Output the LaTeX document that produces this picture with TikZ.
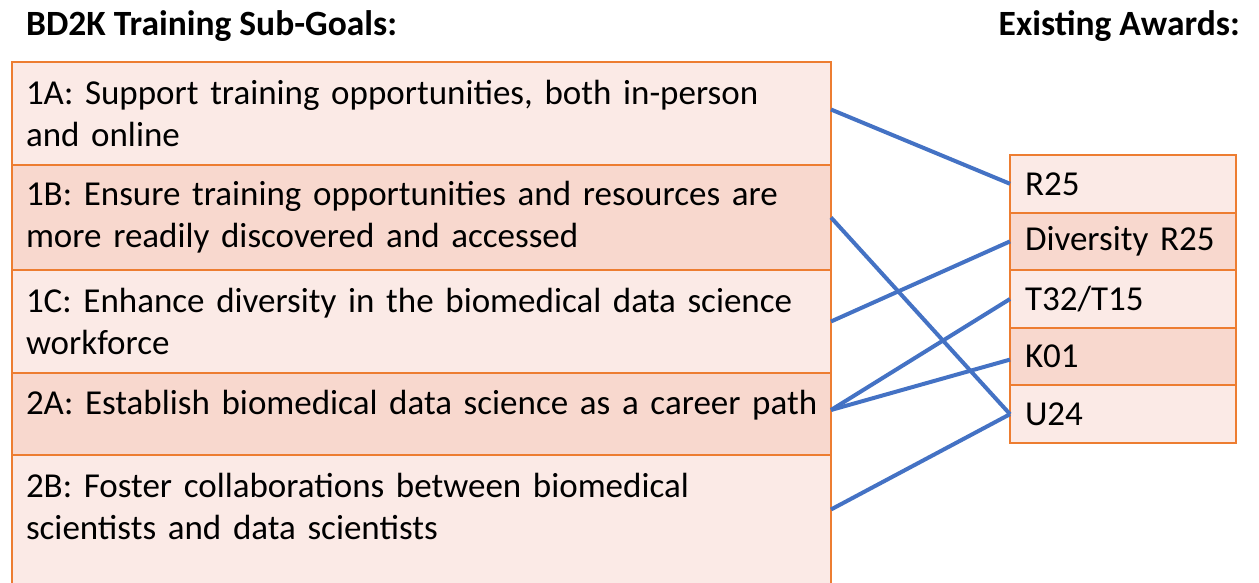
\documentclass[tikz,border=0pt]{standalone}
\usepackage{fontspec}
\setmainfont{Carlito}
\usetikzlibrary{positioning}

\definecolor{edgeorange}{HTML}{ED7D31}
\definecolor{palefill}{HTML}{FBEAE6}
\definecolor{deepfill}{HTML}{F8D8CE}
\definecolor{linkblue}{HTML}{4472C4}

\begin{document}
\begin{tikzpicture}[x=1pt, y=-1pt,
    every node/.style={font=\fontsize{35}{42}\selectfont},
    heading/.style={font=\fontsize{35.5}{42}\selectfont\bfseries, inner sep=0pt},
    goal/.style={draw=edgeorange, line width=2pt, rectangle, align=left, outer sep=0pt,
      text width=791pt, inner xsep=14pt, inner ysep=3pt, minimum height=#1},
    award/.style={draw=edgeorange, line width=2pt, rectangle, align=left, outer sep=0pt,
      text width=196pt, inner xsep=15pt, inner ysep=3pt, minimum height=57.6pt},
    link/.style={draw=linkblue, line width=4pt}]

  % frame of the picture
  \clip (0,0) rectangle (1259,583);

  % headings
  \node[heading, anchor=base west] (goalhead) at (26,36) {BD2K Training Sub-Goals:};
  \node[heading, anchor=base east] (awardhead) at (1240,36) {Existing Awards:};

  % sub-goals, left column
  \node[goal=103pt, fill=palefill, anchor=north west] (g1A) at (12,62)
    {1A: Support training opportunities, both in-person\\and online};
  \node[goal=105pt, fill=deepfill, below=0pt of g1A] (g1B)
    {1B: Ensure training opportunities and resources are\\more readily discovered and accessed};
  \node[goal=103pt, fill=palefill, below=0pt of g1B] (g1C)
    {1C: Enhance diversity in the biomedical data science\\workforce};
  \node[goal=82pt, fill=deepfill, text depth=24pt, below=0pt of g1C] (g2A)
    {\mbox{2A: Establish biomedical data science as a career path}};
  \node[goal=145pt, fill=palefill, below=0pt of g2A] (g2B)
    {2B: Foster collaborations between biomedical\\scientists and data scientists\\\mbox{}};

  % awards, right column
  \node[award, fill=palefill, anchor=north west] (aR25) at (1010,155) {R25};
  \node[award, fill=deepfill, below=0pt of aR25] (aDiv) {Diversity R25};
  \node[award, fill=palefill, below=0pt of aDiv] (aT32) {T32/T15};
  \node[award, fill=deepfill, below=0pt of aT32] (aK01) {K01};
  \node[award, fill=palefill, below=0pt of aK01] (aU24) {U24};

  % links between sub-goals and awards
  \draw[link] ([yshift=4pt]g1A.east) -- (aR25.west);
  \draw[link] (g1B.east) -- (aU24.west);
  \draw[link] (g1C.east) -- (aDiv.west);
  \draw[link] ([yshift=4pt]g2A.east) -- (aT32.west);
  \draw[link] ([yshift=4pt]g2A.east) -- ([yshift=-3pt]aK01.west);
  \draw[link] ([yshift=18pt]g2B.east) -- (aU24.west);

\end{tikzpicture}
\end{document}
